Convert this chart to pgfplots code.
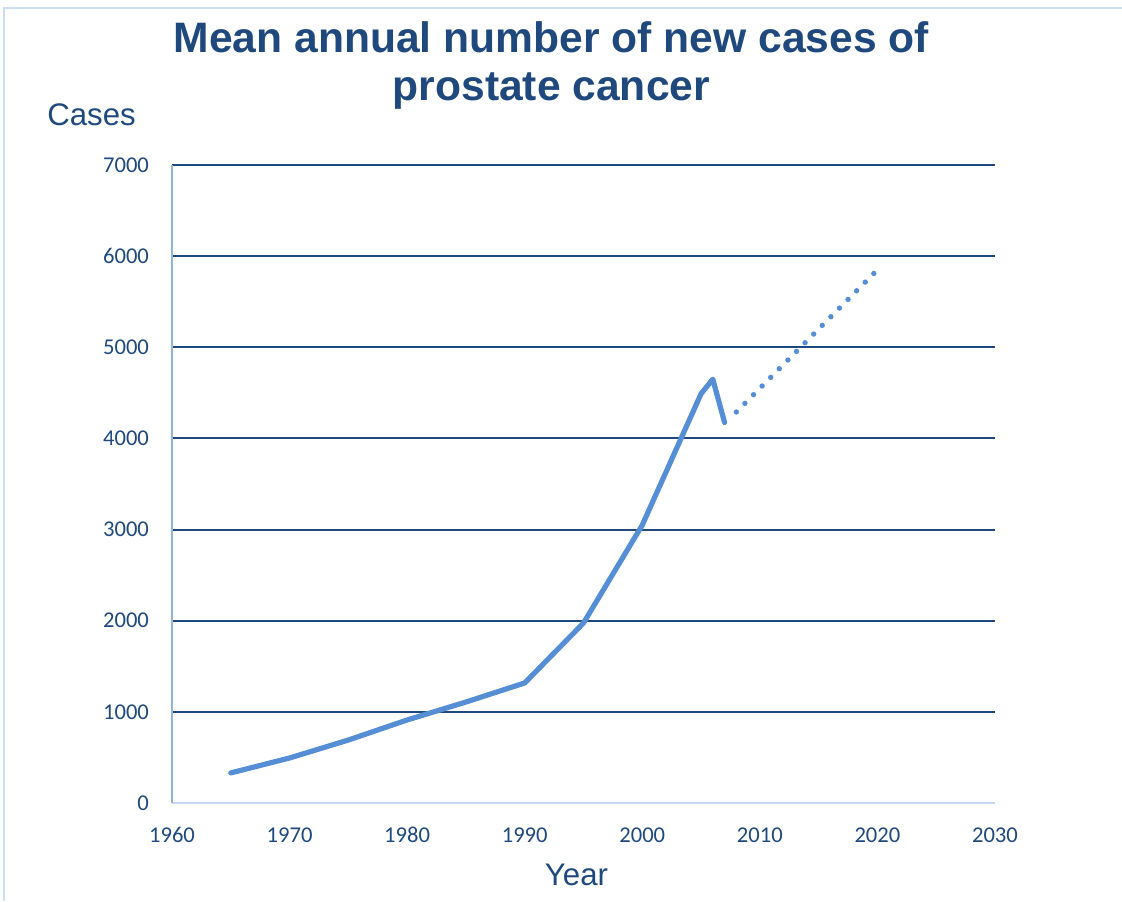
\documentclass[border=0pt]{standalone}
\usepackage{pgfplots}
\pgfplotsset{compat=1.18}
\usepackage{fontspec}
\setmainfont{Liberation Sans}
\newfontfamily\tickfont{Carlito}
\definecolor{txtblue}{RGB}{31,73,125}
\definecolor{gridblue}{RGB}{31,73,125}
\definecolor{lineblue}{RGB}{85,142,213}
\definecolor{axleft}{RGB}{149,179,215}
\definecolor{axbot}{RGB}{198,217,241}
\definecolor{frameblue}{RGB}{206,222,242}
\begin{document}
\begin{tikzpicture}[x=0.5pt,y=0.5pt]
\path[use as bounding box] (-172,-98) rectangle (950,803);
\draw[frameblue,line width=0.6pt] (-168,-98) -- (-168,795) -- (950,795);
\begin{axis}[
  at={(0,0)}, anchor=south west,
  scale only axis, width=411.5pt, height=319pt,
  xmin=1960, xmax=2030, ymin=0, ymax=7000,
  xtick={1960,1970,...,2030}, ytick={0,1000,...,7000},
  axis x line*=bottom, axis y line*=left,
  x axis line style={axbot,line width=1pt,-},
  y axis line style={axleft,line width=1pt,-},
  major tick length=0pt,
  ymajorgrids, grid style={gridblue,line width=1pt},
  xticklabel style={font=\tickfont\fontsize{11.3}{13}\selectfont, text=txtblue, anchor=base, yshift=-19.5pt},
  yticklabel style={font=\tickfont\fontsize{11.3}{13}\selectfont, text=txtblue, xshift=-8pt},
  /pgf/number format/assume math mode=true,
  /pgf/number format/1000 sep={},
  clip=false,
]
\addplot[lineblue, line width=2.6pt, line join=round, line cap=round] coordinates {
(1965,330) (1970,494) (1975,691) (1980,911) (1985,1108) (1990,1317)
(1995,1975) (2000,3050) (2005,4490) (2006,4650) (2007,4175)
};
\addplot[lineblue, line width=2.7pt, line cap=round, dash pattern=on 0pt off 6.1pt] coordinates {
(2008,4290) (2020,5850)
};
\node[font=\bfseries\fontsize{21.3}{24}\selectfont, text=txtblue, anchor=base, inner sep=0pt] at (rel axis cs:0.461,1) [yshift=56.5pt] {Mean annual number of new cases of};
\node[font=\bfseries\fontsize{21.3}{24}\selectfont, text=txtblue, anchor=base, inner sep=0pt] at (rel axis cs:0.461,1) [yshift=32.5pt] {prostate cancer};
\node[font=\fontsize{15.6}{18}\selectfont, text=txtblue, anchor=base, inner sep=0pt] at (rel axis cs:-0.0978,1) [yshift=20pt] {Cases};
\node[font=\fontsize{15.6}{18}\selectfont, text=txtblue, anchor=base, inner sep=0pt] at (rel axis cs:0.4915,0) [yshift=-41pt] {Year};
\end{axis}
\end{tikzpicture}
\end{document}
